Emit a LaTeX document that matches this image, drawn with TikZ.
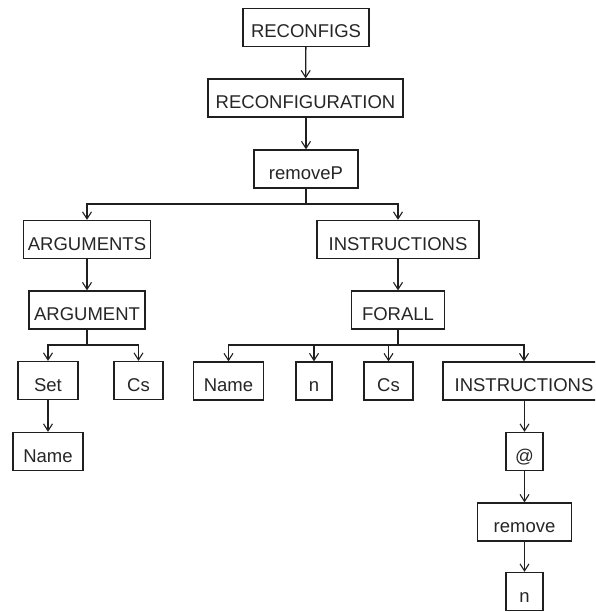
\documentclass[tikz,border=0pt]{standalone}
\usepackage{fontspec}
\setmainfont{Liberation Sans}
\usetikzlibrary{arrows.meta}
\begin{document}
\begin{tikzpicture}[x=1pt,y=-1pt,
  box/.style={draw=black!88, line width=1.3pt, inner sep=0pt, minimum height=38pt,
    text height=21pt, text depth=0pt,
    font=\fontsize{18.5}{22}\selectfont, text=black!85},
  arr/.style={draw=black!88, line width=1.3pt, -{Straight Barb[length=7pt,width=9pt,line width=1.1pt]}},
  ln/.style={draw=black!88, line width=1.3pt}]
\clip (0,0) rectangle (595,612);
\fill[white] (0,0) rectangle (595,612);
% top chain
\node[box, minimum width=126pt] (reconfigs) at (306,27.5) {RECONFIGS};
\node[box, minimum width=195pt] (reconf) at (305.5,98) {RECONFIGURATION};
\node[box, minimum width=104pt] (removeP) at (306,169) {removeP};
% second level
\node[box, minimum width=127pt] (args) at (87,239.5) {ARGUMENTS};
\node[box, minimum width=162pt] (instr) at (398,239.5) {INSTRUCTIONS};
\node[box, minimum width=116pt] (arg) at (87,310) {ARGUMENT};
\node[box, minimum width=93pt] (forall) at (398,310) {FORALL};
% leaves of ARGUMENT
\node[box, minimum width=60pt] (set) at (48,380.5) {Set};
\node[box, minimum width=49pt] (csA) at (138.5,380.5) {Cs};
\node[box, minimum width=70pt] (nameA) at (48,451.5) {Name};
% children of FORALL
\node[box, minimum width=70pt] (nameB) at (228.5,381) {Name};
\node[box, minimum width=36pt] (nA) at (314,381) {n};
\node[box, minimum width=49pt] (csB) at (388.5,381) {Cs};
\node[box, minimum width=162pt] (instrB) at (524,381) {INSTRUCTIONS};
\node[box, minimum width=37pt] (at) at (524.5,451.5) {@};
\node[box, minimum width=94pt] (remove) at (524.5,522) {remove};
\node[box, minimum width=37pt] (nB) at (524.5,591.5) {n};
% straight links
\draw[arr] (reconfigs) -- (reconf);
\draw[arr] (reconf.south -| removeP) -- (removeP);
\draw[arr] (args) -- (arg);
\draw[arr] (instr) -- (forall);
\draw[arr] (set) -- (nameA);
\draw[arr] (instrB.south -| at) -- (at);
\draw[arr] (at) -- (remove);
\draw[arr] (remove.south -| nB) -- (nB);
% branching links
\coordinate (b1) at (306,204);
\coordinate (b2) at (87,345);
\coordinate (b3) at (398,345);
\draw[ln] (removeP) -- (b1);
\draw[arr] (b1) -| (args);
\draw[arr] (b1) -| (instr);
\draw[ln] (arg) -- (b2);
\draw[arr] (b2) -| (set);
\draw[arr] (b2) -| (csA);
\draw[ln] (forall) -- (b3);
\draw[arr] (b3) -| (nameB);
\draw[arr] (b3) -| (nA);
\draw[arr] (b3) -| (csB);
\draw[arr] (b3) -| (instrB);
\end{tikzpicture}
\end{document}
